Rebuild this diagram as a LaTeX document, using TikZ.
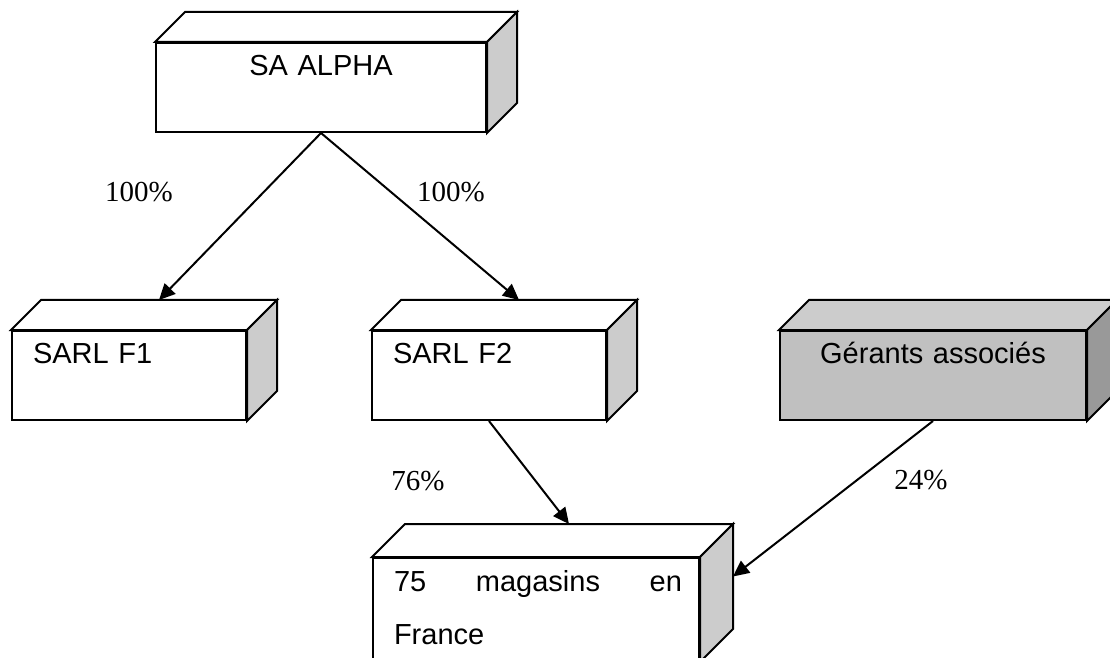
\documentclass[tikz,border=0pt]{standalone}
\usepackage{fontspec}
\setmainfont{Liberation Serif}
\setsansfont{Liberation Sans}
\usetikzlibrary{arrows.meta}

\definecolor{sidegray}{RGB}{204,204,204}
\definecolor{frontgray}{RGB}{192,192,192}
\definecolor{sidedark}{RGB}{153,153,153}

% top and side faces of a block node: #1 node, #2 depth, #3 top fill, #4 side fill
\newcommand{\blockfaces}[4]{%
  \filldraw[fill=#3] (#1.north west) -- ++(#2,-#2) -- ([shift={(#2,-#2)}]#1.north east) -- (#1.north east) -- cycle;
  \filldraw[fill=#4] (#1.north east) -- ([shift={(#2,-#2)}]#1.north east) -- ([shift={(#2,-#2)}]#1.south east) -- (#1.south east) -- cycle;
  \coordinate (#1-top) at ([shift={(#2,-#2)}]#1.north);
  \coordinate (#1-back) at ([shift={(#2,-#2)}]#1.east);
}

\begin{document}
\begin{tikzpicture}[%
    x=0.5pt,
    y=-0.5pt,
    line width=1pt,
    >={Triangle[length=8pt,width=7.5pt]},
    block/.style={draw, fill=white, anchor=north west,
      inner xsep=10.5pt, inner ysep=0pt,
      text width=#1-21pt, text height=16.5pt, text depth=28pt,
      font=\sffamily\fontsize{14.5}{26.5}\selectfont},
    pct/.style={anchor=base, font=\fontsize{14.5}{17}\selectfont}]
    \useasboundingbox (0,0) rectangle (1110,658);
    \clip (0,0) rectangle (1110,658);

    \node[block=165pt, align=center] (alpha) at (155,42) {SA ALPHA};
    \blockfaces{alpha}{30}{white}{sidegray}
    \node[block=117pt, align=left] (f1) at (11,330) {SARL F1};
    \blockfaces{f1}{30}{white}{sidegray}
    \node[block=117pt, align=left] (f2) at (371,330) {SARL F2};
    \blockfaces{f2}{30}{white}{sidegray}
    \node[block=153pt, align=center, fill=frontgray] (gerants) at (779,330) {Gérants associés};
    \blockfaces{gerants}{30}{sidegray}{sidedark}
    \node[block=163pt, align=left, text depth=35pt] (shops) at (372,557)
        {\hbox to 144pt{75\hfill magasins\hfill en}\\France};
    \blockfaces{shops}{33}{white}{sidegray}

    \draw[->] (alpha.south) -- (f1-top);
    \draw[->] (alpha.south) -- (f2-top);
    \draw[->] (f2.south) -- (shops-top);
    \draw[->] (gerants.south) -- (shops-back);

    \node[pct] (pct-f1) at (139,202) {100\%};
    \node[pct] (pct-f2) at (451,202) {100\%};
    \node[pct] (pct-shops) at (418,490) {76\%};
    \node[pct] (pct-gerants) at (921,489) {24\%};
\end{tikzpicture}
\end{document}
